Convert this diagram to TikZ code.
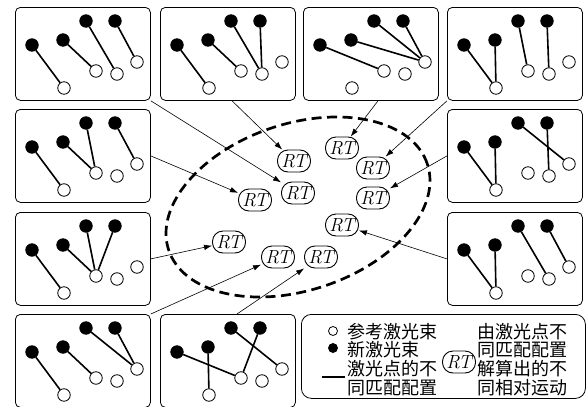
\documentclass[tikz,border=0pt]{standalone}
\usepackage{fontspec}
\newfontfamily\cjk{Noto Sans CJK SC}
\usetikzlibrary{calc,arrows.meta}
\newcommand\mkpanel[4]{% #1 name, #2 x, #3 y, #4 beam pairs
  \node[panelbox] (#1) at (#2,#3) {};
  \begin{scope}[shift={(#2,#3)}]
    \node[openc] (#1o1) at (49,81) {};
    \node[openc] (#1o2) at (81,64) {};
    \node[openc] (#1o3) at (102,67) {};
    \node[openc] (#1o4) at (122,55) {};
    \node[fillc] (#1f1) at (17,38) {};
    \node[fillc] (#1f2) at (48,33) {};
    \node[fillc] (#1f3) at (71,14) {};
    \node[fillc] (#1f4) at (100,14) {};
  \end{scope}
  \foreach \a/\b in {#4} {\draw[beam] (#1\a) -- (#1\b);}
}
\begin{document}
\begin{tikzpicture}[x=1pt,y=-1pt,
  panelbox/.style={draw, line width=0.8pt, rounded corners=5pt, minimum width=135pt, minimum height=93pt, inner sep=0pt, anchor=north west},
  openc/.style={circle, draw, fill=white, line width=0.8pt, minimum size=12.5pt, inner sep=0pt},
  fillc/.style={circle, draw, fill=black, line width=0.8pt, minimum size=12.5pt, inner sep=0pt},
  beam/.style={line width=1.6pt},
  rt/.style={draw, fill=white, line width=0.9pt, rounded corners=10.5pt, minimum width=33pt, minimum height=22pt, inner sep=0pt, font=\fontsize{19}{19}\selectfont\itshape},
  conn/.style={line width=0.6pt, -{Latex[length=8pt,width=5.5pt]}},
  ell/.style={line width=2.7pt, dash pattern=on 10pt off 5.5pt},
  cjkt/.style={font=\cjk\fontsize{18}{18}\selectfont, inner sep=0pt, anchor=west},
  legbox/.style={draw, line width=0.8pt, rounded corners=10pt, minimum width=284pt, minimum height=84pt, inner sep=0pt, anchor=north west}]
\useasboundingbox (0,0) rectangle (587,407);

% dashed ellipse
\draw[ell, rotate around={18.4:(298,207)}] (298,207) ellipse [x radius=136.3pt, y radius=83.3pt];

% panels
\mkpanel{tla}{15}{7}{f1/o1,f2/o2,f3/o3,f4/o4}
\mkpanel{tlb}{160}{7}{f1/o1,f2/o2,f3/o3,f4/o3}
\mkpanel{tlc}{303}{7}{f1/o2,f2/o4,f3/o4,f4/o4}
\mkpanel{tld}{447}{7}{f1/o1,f2/o1,f3/o2,f4/o3}
\mkpanel{la}{15}{109}{f1/o1,f2/o2,f3/o2,f4/o4}
\mkpanel{lb}{15}{212}{f1/o1,f2/o2,f3/o2,f4/o2}
\mkpanel{ra}{447}{109}{f1/o1,f2/o1,f3/o4,f4/o3}
\mkpanel{rb}{447}{212}{f1/o1,f2/o1,f3/o3,f4/o4}
\mkpanel{ba}{15}{314}{f1/o1,f2/o2,f3/o4,f4/o4}
\mkpanel{bb}{160}{314}{f1/o2,f2/o1,f3/o4,f4/o2}

% RT nodes
\node[rt] (rt1) at (294,161) {RT};
\node[rt] (rt2) at (342,148) {RT};
\node[rt] (rt3) at (373,168) {RT};
\node[rt] (rt4) at (298,193) {RT};
\node[rt] (rt5) at (255,200) {RT};
\node[rt] (rt6) at (373,198) {RT};
\node[rt] (rt7) at (342,225) {RT};
\node[rt] (rt8) at (229,242) {RT};
\node[rt] (rt9) at (278,257) {RT};
\node[rt] (rt10) at (321,257) {RT};

% connectors
\draw[conn] (tla.south east) -- (rt4);
\draw[conn] ($(tlb.south west)+(72,0)$) -- (rt1);
\draw[conn] ($(tlc.south west)+(75,0)$) -- (rt2);
\draw[conn] (tld.south west) -- (rt3);
\draw[conn] (la.east) -- (rt5);
\draw[conn] (lb.east) -- (rt8);
\draw[conn] (ra.west) -- (rt6);
\draw[conn] (rb.west) -- (rt7);
\draw[conn] (ba.north east) -- (rt9);
\draw[conn] ($(bb.north west)+(77,0)$) -- (rt10);

% legend
\node[legbox] (leg) at (301,314) {};
\node[openc, minimum size=9pt] (lo) at (333,331) {};
\node[fillc, minimum size=9pt] (lf) at (333,348) {};
\coordinate (lla) at (322,377);
\coordinate (llb) at (345,377);
\draw[line width=1.8pt] (lla) -- (llb);
\node[cjkt] (t1) at (347,332) {参考激光束};
\node[cjkt] (t2) at (347,350) {新激光束};
\node[cjkt] (t3) at (347,369) {激光点的不};
\node[cjkt] (t4) at (347,388) {同匹配配置};
\node[rt] (lrt) at (459,362) {RT};
\node[cjkt] (u1) at (477,332) {由激光点不};
\node[cjkt] (u2) at (477,350) {同匹配配置};
\node[cjkt] (u3) at (477,369) {解算出的不};
\node[cjkt] (u4) at (477,388) {同相对运动};
\end{tikzpicture}
\end{document}
